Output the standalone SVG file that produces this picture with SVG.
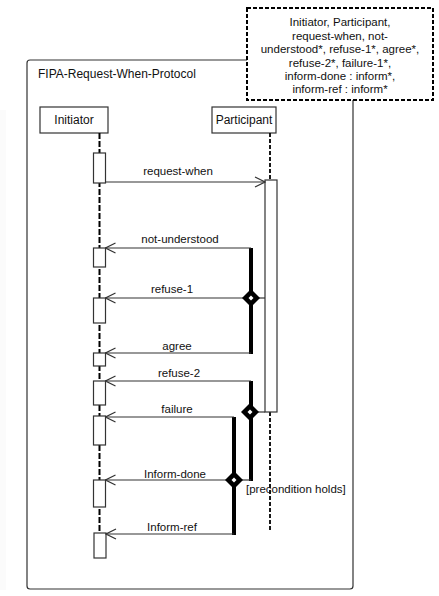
<svg xmlns="http://www.w3.org/2000/svg" width="439" height="596" viewBox="0 0 439 596">
<style>
text{font-family:"Liberation Sans",Arial,sans-serif;font-size:11.5px;fill:#111}
.c{text-anchor:middle}
.lbl{font-size:12px}
.thin{stroke:#333;stroke-width:1.2;fill:none}
.box{fill:#fff;stroke:#333;stroke-width:1.2}
.act{fill:#fff;stroke:#333;stroke-width:1.2}
.thick{stroke:#000;stroke-width:4;fill:none}
.ll1{stroke:#000;stroke-width:2;stroke-dasharray:6 2;fill:none}
.ll2{stroke:#000;stroke-width:1.8;stroke-dasharray:4 2;fill:none}
</style>
<defs>
<marker id="open" viewBox="0 0 12 12" refX="11" refY="6" markerWidth="12" markerHeight="12" markerUnits="userSpaceOnUse" orient="auto">
<path d="M1,1 L11,6 L1,11" fill="none" stroke="#333" stroke-width="1.2"/>
</marker>
<g id="dm"><path d="M0,-9 L9,0 L0,9 L-9,0 Z" fill="#000"/><path d="M0,-2.5 L2.5,0 L0,2.5 L-2.5,0 Z" fill="#fff"/></g>
</defs>
<rect x="0" y="110" width="6" height="480" fill="#fbfbfb"/>
<g id="frame">
<path d="M247,60 L30,60 Q27,60 27,63 L27,586 Q27,589 30,589 L350,589 Q353,589 353,586 L353,100" class="thin" stroke="#555"/>
<text x="38" y="78" style="font-size:12px">FIPA-Request-When-Protocol</text>
</g>
<g id="note">
<rect x="247" y="8" width="186" height="92" fill="#fff" stroke="#000" stroke-width="2" stroke-dasharray="4 2"/>
<text class="c" x="340" y="26">Initiator, Participant,</text>
<text class="c" x="340" y="40">request-when, not-</text>
<text class="c" x="340" y="53">understood*, refuse-1*, agree*,</text>
<text class="c" x="340" y="67">refuse-2*, failure-1*,</text>
<text class="c" x="340" y="80">inform-done : inform*,</text>
<text class="c" x="340" y="93">inform-ref : inform*</text>
</g>
<g id="initiator">
<rect class="box" x="40" y="107" width="68" height="26"/>
<text class="c lbl" x="74" y="124">Initiator</text>
<line class="ll1" x1="99.5" y1="133" x2="99.5" y2="533"/>
<rect class="act" x="93.5" y="153" width="12" height="30"/>
<rect class="act" x="93.5" y="248" width="12" height="19"/>
<rect class="act" x="93.5" y="298" width="12" height="25"/>
<rect class="act" x="93.5" y="353" width="12" height="13"/>
<rect class="act" x="93.5" y="381" width="12" height="24"/>
<rect class="act" x="93.5" y="416" width="12" height="29"/>
<rect class="act" x="93.5" y="480" width="12" height="27"/>
<rect class="act" x="94" y="533" width="12" height="25"/>
</g>
<g id="participant">
<rect class="box" x="212" y="107" width="64" height="26"/>
<text class="c lbl" x="244" y="124">Participant</text>
<line class="ll2" x1="270" y1="133" x2="270" y2="180"/>
<line class="ll2" x1="270" y1="412" x2="270" y2="530"/>
<rect class="act" x="265" y="180" width="12" height="232"/>
</g>
<g id="connectors">
<line class="thin" x1="105.5" y1="182" x2="265" y2="182" marker-end="url(#open)"/>
<text class="c" x="178" y="175">request-when</text>
<line class="thick" x1="251" y1="248" x2="251" y2="354"/>
<line class="thin" x1="251" y1="298" x2="265" y2="298"/>
<line class="thin" x1="251" y1="248" x2="105.5" y2="248" marker-end="url(#open)"/>
<text class="c" x="180" y="243">not-understood</text>
<line class="thin" x1="251" y1="298" x2="105.5" y2="298" marker-end="url(#open)"/>
<text class="c" x="172" y="293">refuse-1</text>
<line class="thin" x1="251" y1="353" x2="105.5" y2="353" marker-end="url(#open)"/>
<text class="c" x="177" y="350">agree</text>
<use href="#dm" x="251" y="298"/>
<line class="thick" x1="251" y1="381" x2="251" y2="481"/>
<line class="thin" x1="251" y1="412" x2="265" y2="412"/>
<line class="thin" x1="251" y1="381" x2="105.5" y2="381" marker-end="url(#open)"/>
<text class="c" x="179" y="377">refuse-2</text>
<use href="#dm" x="250" y="412"/>
<line class="thick" x1="234" y1="417" x2="234" y2="535"/>
<line class="thin" x1="234" y1="480" x2="251" y2="480"/>
<line class="thin" x1="234" y1="417" x2="105.5" y2="417" marker-end="url(#open)"/>
<text class="c" x="177" y="413">failure</text>
<line class="thin" x1="234" y1="480" x2="105.5" y2="480" marker-end="url(#open)"/>
<text class="c" x="175" y="478">Inform-done</text>
<line class="thin" x1="234" y1="534" x2="106" y2="534" marker-end="url(#open)"/>
<text class="c" x="172" y="531">Inform-ref</text>
<use href="#dm" x="234" y="480"/>
<text x="246" y="493">[precondition holds]</text>
</g>
</svg>
